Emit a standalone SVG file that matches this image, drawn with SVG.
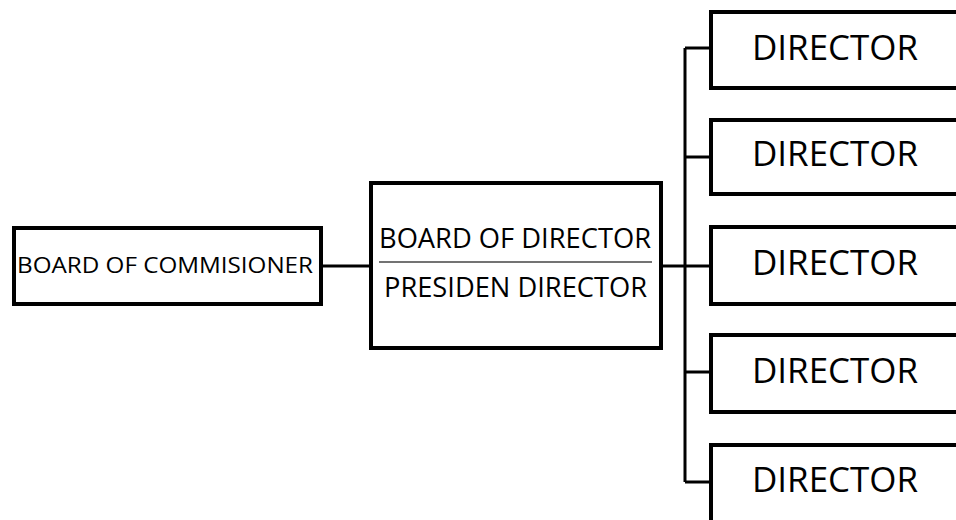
<svg xmlns="http://www.w3.org/2000/svg" width="956" height="520" viewBox="0 0 956 520">
<style>
.box{fill:#fff;stroke:#000;stroke-width:4;}
.ln{fill:none;stroke:#000;stroke-width:3;}
.t{font-family:"Open Sans","Liberation Sans",sans-serif;fill:#000;}
.d{font-size:35px;}
</style>
<rect width="956" height="520" fill="#fff"/>
<g id="connectors">
<line class="ln" x1="321" y1="266" x2="372" y2="266"/>
<line class="ln" x1="660" y1="266" x2="685" y2="266"/>
<line class="ln" x1="685" y1="48" x2="685" y2="482"/>
<line class="ln" x1="685" y1="48" x2="711" y2="48"/>
<line class="ln" x1="685" y1="157" x2="711" y2="157"/>
<line class="ln" x1="685" y1="266" x2="711" y2="266"/>
<line class="ln" x1="685" y1="372" x2="711" y2="372"/>
<line class="ln" x1="685" y1="482" x2="711" y2="482"/>
</g>
<g id="board-of-commisioner">
<rect class="box" x="14" y="228" width="307" height="76"/>
<text class="t" x="17" y="273" font-size="22" textLength="296" lengthAdjust="spacingAndGlyphs">BOARD OF COMMISIONER</text>
</g>
<g id="board-of-director">
<rect class="box" x="371" y="183" width="290" height="165"/>
<text class="t" x="379" y="248" font-size="28" textLength="272" lengthAdjust="spacingAndGlyphs">BOARD OF DIRECTOR</text>
<line x1="379" y1="262" x2="652" y2="262" stroke="#444" stroke-width="1.5"/>
<text class="t" x="384" y="297" font-size="28" textLength="263" lengthAdjust="spacingAndGlyphs">PRESIDEN DIRECTOR</text>
</g>
<g id="director-1">
<rect class="box" x="711" y="12" width="260" height="76"/>
<text class="t d" x="752" y="60" textLength="166" lengthAdjust="spacingAndGlyphs">DIRECTOR</text>
</g>
<g id="director-2">
<rect class="box" x="711" y="120" width="260" height="74"/>
<text class="t d" x="752" y="166" textLength="166" lengthAdjust="spacingAndGlyphs">DIRECTOR</text>
</g>
<g id="director-3">
<rect class="box" x="711" y="227" width="260" height="77"/>
<text class="t d" x="752" y="275" textLength="166" lengthAdjust="spacingAndGlyphs">DIRECTOR</text>
</g>
<g id="director-4">
<rect class="box" x="711" y="335" width="260" height="77"/>
<text class="t d" x="752" y="383" textLength="166" lengthAdjust="spacingAndGlyphs">DIRECTOR</text>
</g>
<g id="director-5">
<rect class="box" x="711" y="445" width="260" height="90"/>
<text class="t d" x="752" y="492" textLength="166" lengthAdjust="spacingAndGlyphs">DIRECTOR</text>
</g>
</svg>
